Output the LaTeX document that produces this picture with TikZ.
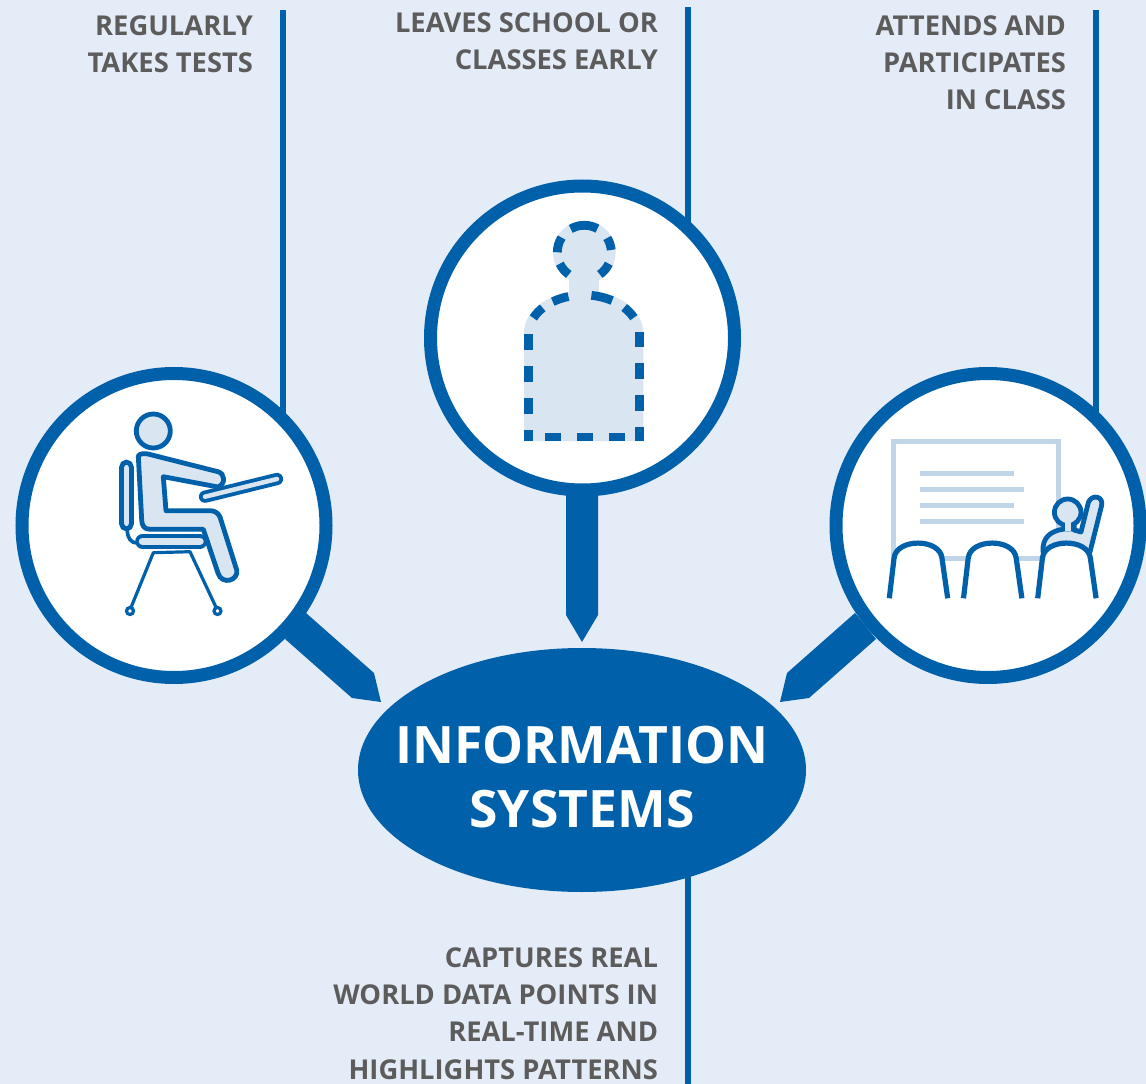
\documentclass[tikz,border=0pt]{standalone}
\usepackage{fontspec}
\setmainfont{Open Sans}[BoldFont={Open Sans Bold}]
\usetikzlibrary{shapes.geometric}
\definecolor{bgblue}{HTML}{E4EDF7}
\definecolor{mainblue}{HTML}{0060AA}
\definecolor{lightfill}{HTML}{D9E6F2}
\definecolor{boardblue}{HTML}{C0D5E8}
\definecolor{labelgrey}{HTML}{5C5C5C}
\tikzset{
  ring/.style={circle,draw=mainblue,fill=white,line width=9.75pt,minimum size=228pt,inner sep=0pt,outer sep=0pt},
  hub/.style={ellipse,fill=mainblue,minimum width=336pt,minimum height=183pt,inner sep=0pt,outer sep=0pt},
  hubtext/.style={text=white,align=center,inner sep=0pt,font=\bfseries\fontsize{38.7}{47.5}\selectfont},
  stem/.style={draw=mainblue,line width=4pt},
  pointer/.style={fill=mainblue},
  lab/.style={text=labelgrey,align=right,inner sep=0pt,outer sep=0pt,anchor=north east,font=\bfseries\fontsize{20.5}{27.8}\selectfont},
  icon/.style={draw=mainblue,fill=lightfill,line width=3.6pt,line join=round},
  iconline/.style={draw=mainblue,line width=2.4pt,line cap=round},
  dashseg/.style={draw=mainblue,line width=6.6pt},
  boardline/.style={draw=boardblue,line width=3.75pt},
  chair/.style={draw=mainblue,fill=white,line width=3.9pt,line join=round}
}
\begin{document}
\begin{tikzpicture}[x=0.75pt,y=-0.75pt]
\useasboundingbox (0,0) rectangle (1146,1084);
\fill[bgblue] (0,0) rectangle (1146,1084);
% anchors
\coordinate (tl) at (283,10);
\coordinate (tm) at (688,7);
\coordinate (tr) at (1096,10);
\coordinate (bm) at (688,1084);
% pointers
\path[pointer] (566,480) -- (598,480) -- (598,615) -- (582,642) -- (566,615) -- cycle;
\path[pointer] (306,613) -- (374,673) -- (381,702) -- (352,698) -- (285,639) -- cycle;
\path[pointer] (855,613) -- (787,673) -- (780,702) -- (809,698) -- (876,639) -- cycle;
% nodes
\node[ring] (leftc) at (174,525.5) {};
\node[ring] (topc) at (582.5,338) {};
\node[ring] (rightc) at (988,525.5) {};
\node[hub] (info) at (582,770) {};
\node[hubtext] (title) at (582,777) {INFORMATION\\SYSTEMS};
% stems
\draw[stem] (tl) -- (tl |- leftc.46.5);
\draw[stem] (tm) -- (tm |- topc.45.8);
\draw[stem] (tr) -- (tr |- rightc.45.4);
\draw[stem] (bm) -- (bm |- info.-45.4);
% labels
\node[lab] (l1) at (253,15.5) {REGULARLY\\TAKES TESTS};
\node[lab] (l2) at (658,13) {LEAVES SCHOOL OR\\CLASSES EARLY};
\node[lab] (l3) at (1066,16) {ATTENDS AND\\PARTICIPATES\\IN CLASS};
\node[lab] (l4) at (658,948) {CAPTURES REAL\\WORLD DATA POINTS IN\\REAL-TIME AND\\HIGHLIGHTS PATTERNS};
% sitting person
\draw[icon] (153.3,431) circle[radius=17];
\draw[icon,rounded corners=4pt] (121.5,462) rectangle (131.5,529);
\draw[iconline,line width=2.7pt,line cap=butt] (127.3,530) .. controls (127.3,538) and (131,543) .. (137,543);
\draw[icon] (138.3,456)
  .. controls (140,453) and (145,453.5) .. (148,454) -- (218,471.7)
  .. controls (225,473.5) and (226,484) .. (218,487) -- (163.3,476.7) -- (166,510.7) -- (210,510.7)
  .. controls (215,510.7) and (218,513) .. (220,517) -- (236.7,570)
  .. controls (239,580) and (222,586) .. (218,573) -- (203.3,529.3) -- (150,529.3)
  .. controls (144,529.3) and (141.7,525) .. (141.7,520) -- cycle;
\draw[mainblue,line width=9.2pt,line cap=round] (205,496.7) -- (277,479);
\draw[lightfill,line width=3.4pt,line cap=round] (205,496.7) -- (277,479);
\draw[mainblue,line width=11pt,line cap=round] (142.5,541.3) -- (200,541.3);
\draw[lightfill,line width=5.6pt,line cap=round] (142.5,541.3) -- (200,541.3);
\draw[iconline,line join=round] (130,610) -- (153.3,552.7) -- (190,551.7) -- (217.3,610);
\draw[draw=mainblue,fill=white,line width=2.4pt] (130,611) circle[radius=3.5];
\draw[draw=mainblue,fill=white,line width=2.4pt] (217.5,611) circle[radius=3.5];
% absent person
\fill[lightfill] (584.3,252.3) circle[radius=31.3];
\fill[lightfill] (569,270) rectangle (599,300);
\fill[lightfill] (524,441) -- (524,333) .. controls (524,309) and (551,290.7) .. (583.7,290.7)
  .. controls (616.5,290.7) and (643.3,309) .. (643.3,333) -- (643.3,441) -- cycle;
\foreach \a/\b in {61/120,5/32,-55/-25,-155/-125,147/180}
  \draw[dashseg] ({584.3+27*cos(\a)},{252.3-27*sin(\a)}) arc[start angle=-\a,end angle=-\b,radius=27];
\foreach \a/\b in {137.8/155.5,106/124,59/82,25/43}
  \draw[dashseg] ({583.7+55.3*cos(\a)},{334.3-39.3*sin(\a)}) arc[start angle=-\a,end angle=-\b,x radius=55.3,y radius=39.3];
\foreach \y/\z in {334.3/350,366/382,398/414,430/441}
  \draw[dashseg] (528.3,\y) -- (528.3,\z);
\foreach \y/\z in {331.7/347.3,363.3/379.3,395.3/411.3,427.3/441}
  \draw[dashseg] (639.3,\y) -- (639.3,\z);
\foreach \x/\z in {545/561.3,577/593.3,609/625.3}
  \draw[dashseg] (\x,437) -- (\z,437);
% classroom
\draw[boardline] (893.3,441.3) rectangle (1058.7,558.7);
\draw[boardline] (920,473.3) -- (1014,473.3);
\draw[boardline] (920,489.3) -- (1024.3,489.3);
\draw[boardline] (920,505.3) -- (1014,505.3);
\draw[boardline] (920,521.3) -- (1024.3,521.3);
\draw[icon] (1043,552) .. controls (1042,538) and (1050,531) .. (1064,529)
  -- (1072,529) -- (1081,532) -- (1088.5,502)
  .. controls (1092,494) and (1104,496) .. (1101.5,506) -- (1090,552) -- cycle;
\draw[draw=mainblue,line width=2.5pt] (1075,524) -- (1075,531) -- (1080,532);
\draw[icon] (1067.7,512.3) circle[radius=13.3];
\fill[lightfill] (1070.5,522) rectangle (1065,531);
\foreach \s in {0,74.2,148.4}
  \draw[chair,shift={(\s,0)}] (889.3,598.3) -- (894,558.3) .. controls (896,538) and (940,538) .. (942,558.3) -- (947.7,598.3);
\end{tikzpicture}
\end{document}
